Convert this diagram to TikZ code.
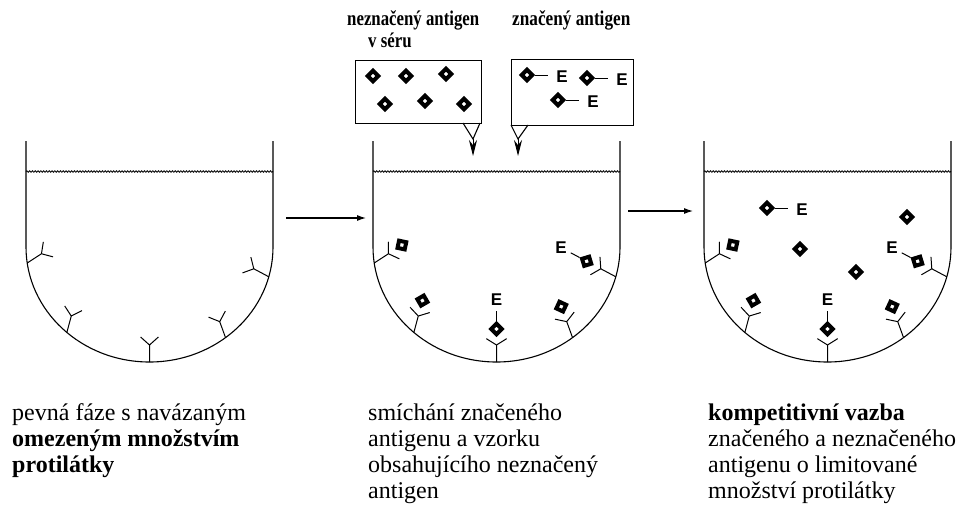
\documentclass[tikz,border=0pt]{standalone}
\usepackage{fontspec}
\setmainfont{Liberation Serif}
\newfontfamily\labelsans{Liberation Sans}
\usetikzlibrary{arrows.meta,decorations.pathmorphing}

% antigen: thick-outlined diamond centred at (#1,0) of the current frame
\newcommand\antigenat[1]{\draw[agline] (#1,-5.2) -- ++(5.2,5.2) -- ++(-5.2,5.2) -- ++(-5.2,-5.2) -- cycle;}

\tikzset{
  wall/.style={line width=1.1pt},
  water/.style={line width=0.8pt, decorate,
    decoration={snake, amplitude=0.8pt, segment length=2.8pt}},
  abline/.style={line width=1pt},
  agline/.style={line width=4pt, line join=miter},
  box/.style={draw, line width=1.2pt, inner sep=0pt, anchor=north west},
  flow/.style={line width=1.1pt, -{Latex[length=9pt,width=6pt]}},
  drop/.style={line width=1pt, -{Stealth[length=16pt,width=8pt]}},
  enz/.style={font=\labelsans\bfseries\fontsize{17}{17}\selectfont, inner sep=0pt},
  body/.style={font=\fontsize{24}{26}\selectfont, inner sep=0pt, anchor=base west},
  head/.style={font=\bfseries\fontsize{21}{22}\selectfont, inner sep=0pt, anchor=base west},
  pics/ag/.style={code={\antigenat{0}}},
  % antigen carrying an enzyme label E
  pics/agE/.style={code={\antigenat{0} \draw[abline] (8,0)--(21,0);
      \node[enz] at (35,2) {E};}},
  % free antibody (Y shape), stem along local x
  pics/ab/.style={code={\draw[abline] (0,0)--(17,0) (17,0)--++(48:12) (17,0)--++(-48:12);}},
  % antibody with a bound antigen
  pics/abbound/.style={code={\draw[abline] (0,0)--(17,0) (17,0)--++(58:12) (17,0)--++(-58:12);
      \antigenat{33}}},
  % antibody with a bound labelled antigen
  pics/abE/.style={code={\draw[abline] (0,0)--(17,0) (17,0)--++(58:12) (17,0)--++(-58:12);
      \antigenat{33} \draw[abline] (41,0)--(51,0);
      \node[enz] at (62,0) {E};}},
}

\begin{document}
\begin{tikzpicture}[x=1pt,y=-1pt]
\useasboundingbox (0,0) rectangle (965,507);

% three reaction wells
\foreach \cx in {149.5,496.5,827.5}{
  \draw[wall] ({\cx-123.5},141) -- ({\cx-123.5},247)
    arc[start angle=180,end angle=0,x radius=123.5,y radius=115] -- ({\cx+123.5},141);
  \draw[water] ({\cx-123.5},171.5) -- ({\cx+123.5},171.5);
}

% well 1: immobilised antibodies
\begin{scope}[shift={(149.5,247)}]
  \pic[rotate=33]  at (172:123.5 and 115) {ab};
  \pic[rotate=75]  at (132:123.5 and 115) {ab};
  \pic[rotate=90]  at (90:123.5 and 115)  {ab};
  \pic[rotate=110] at (52:123.5 and 115)  {ab};
  \pic[rotate=152] at (15:123.5 and 115)  {ab};
\end{scope}

% wells 2 and 3: antibodies with bound antigen
\foreach \cx in {496.5,827.5}{
\begin{scope}[shift={(\cx,247)}]
  \pic[rotate=33]  at (172:123.5 and 115) {abbound};
  \pic[rotate=75]  at (132:123.5 and 115) {abbound};
  \pic[rotate=90]  at (90:123.5 and 115)  {abE};
  \pic[rotate=110] at (52:123.5 and 115)  {abbound};
  \pic[rotate=152] at (15:123.5 and 115)  {abE};
\end{scope}
}

% well 3: free antigen in solution
\pic at (767,208) {agE};
\pic at (907,217) {ag};
\pic at (800,249) {ag};
\pic at (856,272) {ag};

% reagent boxes
\node[box, minimum width=126pt, minimum height=63pt] (serum) at (355,60) {};
\node[box, minimum width=122pt, minimum height=66pt] (label) at (511,59) {};
\pic at (373,76) {ag};
\pic at (406,76) {ag};
\pic at (446,74) {ag};
\pic at (385,104) {ag};
\pic at (425,101) {ag};
\pic at (464,104) {ag};
\pic at (527,75) {agE};
\pic at (587,78) {agE};
\pic at (558,100) {agE};

% dispensing spouts
\coordinate (s1a) at (463,123); \coordinate (s1b) at (480,123); \coordinate (s1c) at (473,139);
\coordinate (s1d) at (473,156);
\draw[wall] (s1a) -- (s1c) -- (s1b);
\draw[drop] (s1c) -- (s1d);
\coordinate (s2a) at (511,125); \coordinate (s2b) at (528,125); \coordinate (s2c) at (518,139);
\coordinate (s2d) at (518,156);
\draw[wall] (s2a) -- (s2c) -- (s2b);
\draw[drop] (s2c) -- (s2d);

% process arrows
\coordinate (a1s) at (286,218); \coordinate (a1e) at (366,218);
\coordinate (a2s) at (628,211); \coordinate (a2e) at (693,211);
\draw[flow] (a1s) -- (a1e);
\draw[flow] (a2s) -- (a2e);

% headings
\node[head] (h1) at (347,25) {\scalebox{0.8}[1]{neznačený antigen}};
\node[head] (h2) at (368,47) {\scalebox{0.8}[1]{v séru}};
\node[head] (h3) at (512,25) {\scalebox{0.82}[1]{značený antigen}};

% captions, one node per line
\node[body] (c1a) at (12,420) {pevná fáze s navázaným};
\node[body] (c1b) at (12,446) {\textbf{omezeným množstvím}};
\node[body] (c1c) at (12,472) {\textbf{protilátky}};
\node[body] (c2a) at (368,420) {smíchání značeného};
\node[body] (c2b) at (368,446) {antigenu a vzorku};
\node[body] (c2c) at (368,472) {obsahujícího neznačený};
\node[body] (c2d) at (368,498) {antigen};
\node[body] (c3a) at (708,420) {\textbf{kompetitivní vazba}};
\node[body] (c3b) at (708,446) {značeného a neznačeného};
\node[body] (c3c) at (708,472) {antigenu o limitované};
\node[body] (c3d) at (708,498) {množství protilátky};
\end{tikzpicture}
\end{document}
